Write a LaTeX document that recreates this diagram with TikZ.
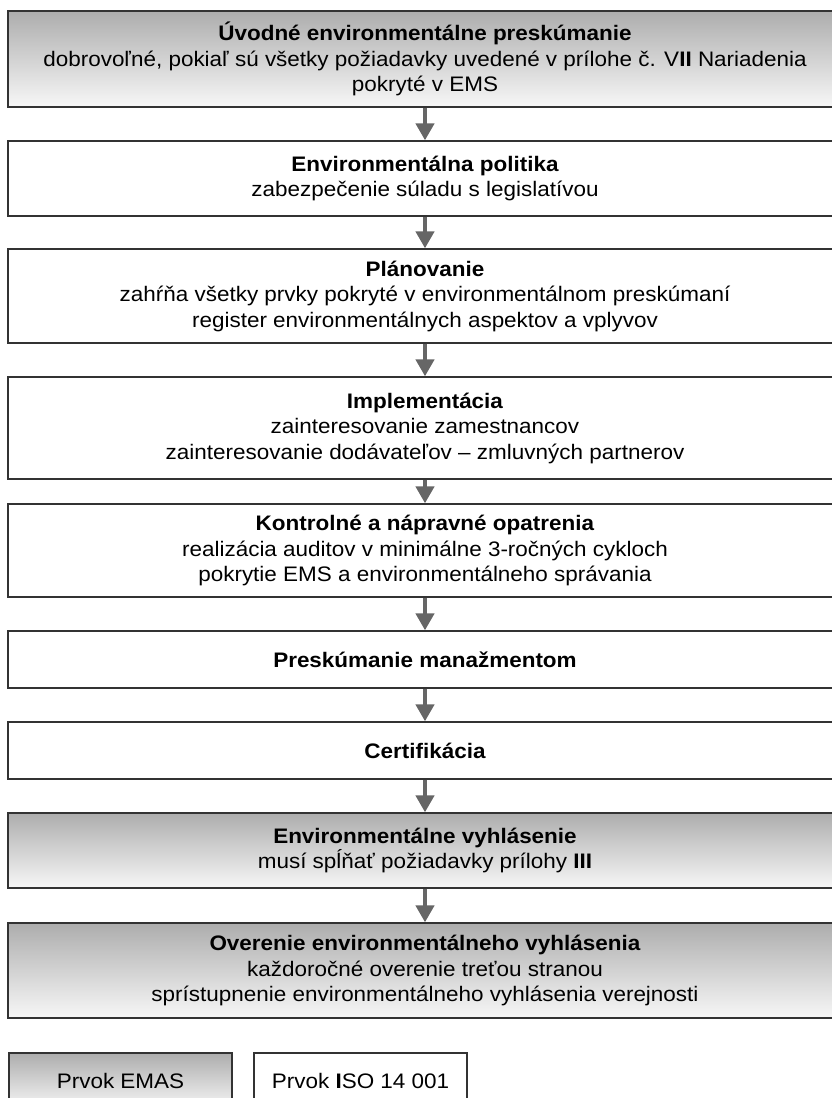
\documentclass[tikz,border=0pt]{standalone}
\usepackage{fontspec}
\setmainfont[FakeStretch=1.07]{Liberation Sans}
\usetikzlibrary{arrows.meta}
\definecolor{edge}{HTML}{333333}
\definecolor{arr}{HTML}{666666}
\definecolor{gtop}{HTML}{ADADAD}
\definecolor{gbot}{HTML}{F7F7F7}
\tikzset{
  box/.style={draw=edge, line width=1.3pt, fill=white, minimum width=834pt, align=center, inner sep=0pt,
    font=\fontsize{21}{25.5}\selectfont, text=black},
  emas/.style={box, top color=gtop, bottom color=gbot},
  flow/.style={draw=arr, line width=4.5pt, -{Triangle[width=18pt,length=17pt]}, shorten >=0pt},
}
\begin{document}
\begin{tikzpicture}[x=1pt,y=-1pt]
\useasboundingbox (0,0) rectangle (832,1098);
\clip (0,0) rectangle (832,1098);
\node[emas, minimum height=96pt] (b1) at (425,59) {\textbf{Úvodné environmentálne preskúmanie}\\dobrovoľné, pokiaľ sú všetky požiadavky uvedené v prílohe č. V\textbf{II} Nariadenia\\pokryté v EMS};
\node[box, minimum height=75pt] (b2) at (425,178.5) {\textbf{Environmentálna politika}\\zabezpečenie súladu s legislatívou};
\node[box, minimum height=94pt] (b3) at (425,296) {\textbf{Plánovanie}\\zahŕňa všetky prvky pokryté v environmentálnom preskúmaní\\register environmentálnych aspektov a vplyvov};
\node[box, minimum height=102pt] (b4) at (425,428) {\textbf{Implementácia}\\zainteresovanie zamestnancov\\zainteresovanie dodávateľov – zmluvných partnerov};
\node[box, minimum height=93pt] (b5) at (425,550.5) {\textbf{Kontrolné a nápravné opatrenia}\\realizácia auditov v minimálne 3-ročných cykloch\\pokrytie EMS a environmentálneho správania};
\node[box, minimum height=57pt] (b6) at (425,659.5) {\textbf{Preskúmanie manažmentom}};
\node[box, minimum height=57pt] (b7) at (425,750.5) {\textbf{Certifikácia}};
\node[emas, minimum height=75pt] (b8) at (425,850.5) {\textbf{Environmentálne vyhlásenie}\\musí spĺňať požiadavky prílohy \textbf{III}};
\node[emas, minimum height=95pt] (b9) at (425,970.5) {\textbf{Overenie environmentálneho vyhlásenia}\\každoročné overenie treťou stranou\\sprístupnenie environmentálneho vyhlásenia verejnosti};
\node[emas, minimum width=223pt, minimum height=56pt] (l1) at (120.5,1081) {Prvok EMAS};
\node[box, minimum width=213pt, minimum height=56pt] (l2) at (360.5,1081) {Prvok \textbf{I}SO 14 001};
\foreach \a/\b in {b1/b2,b2/b3,b3/b4,b4/b5,b5/b6,b6/b7,b7/b8,b8/b9}
  \draw[flow] (\a.south) -- (\b.north);
\end{tikzpicture}
\end{document}
